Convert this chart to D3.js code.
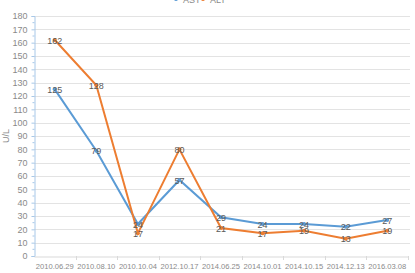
<!DOCTYPE html>
<html>
<head>
<meta charset="utf-8">
<script src="https://cdn.jsdelivr.net/npm/d3@7"></script>
<style>
  body { margin: 0; background: #fff; }
  svg { display: block; font-family: "Liberation Sans", Arial, sans-serif; }
</style>
</head>
<body>
<div id="chart"></div>
<script>
var dates = ["2010.06.29", "2010.08.10", "2010.10.04", "2012.10.17", "2014.06.25",
             "2014.10.01", "2014.10.15", "2014.12.13", "2016.03.08"];
var ast = [125, 79, 24, 57, 29, 24, 24, 22, 27];
var alt = [162, 128, 17, 80, 21, 17, 19, 13, 19];
var yTicks = d3.range(0, 181, 10);

var width = 415, height = 273;
var plotLeft = 34, plotRight = 408, plotTop = 16, plotBottom = 256;

var svg = d3.select("#chart").append("svg")
  .attr("width", width)
  .attr("height", height);

var xScale = d3.scaleBand()
  .domain(dates)
  .range([plotLeft, plotRight]);

var yScale = d3.scaleLinear()
  .domain([0, 180])
  .range([plotBottom, plotTop]);

// gridlines
svg.append("g").selectAll("line")
  .data(yTicks.filter(function(d){ return d > 0; }))
  .enter().append("line")
    .attr("x1", plotLeft).attr("x2", plotRight + 2)
    .attr("y1", function(d){ return Math.round(yScale(d)) + 0.5; })
    .attr("y2", function(d){ return Math.round(yScale(d)) + 0.5; })
    .attr("stroke", "#e3e3e3");

// y axis
var yAxis = svg.append("g")
  .attr("transform", "translate(" + (plotLeft + 0.5) + ",0)")
  .call(d3.axisLeft(yScale).tickValues(yTicks).tickSize(3).tickPadding(4));
yAxis.select(".domain").attr("stroke", "#a8c8e8");
yAxis.selectAll(".tick line").attr("stroke", "#a8c8e8");
yAxis.selectAll("text").attr("fill", "#8a8a8a").style("font-size", "9px");

// minor ticks
svg.append("g").selectAll("line")
  .data(d3.range(5, 180, 10))
  .enter().append("line")
    .attr("x1", plotLeft - 1.5).attr("x2", plotLeft + 0.5)
    .attr("y1", function(d){ return yScale(d); })
    .attr("y2", function(d){ return yScale(d); })
    .attr("stroke", "#a8c8e8");

// x axis
var xAxis = svg.append("g")
  .attr("transform", "translate(0," + (plotBottom + 0.5) + ")")
  .call(d3.axisBottom(xScale).tickSize(0).tickPadding(7));
xAxis.select(".domain").attr("stroke", "#d9d9d9");
xAxis.selectAll("text").attr("fill", "#8a8a8a").style("font-size", "7.6px");
svg.append("g").selectAll("line")
  .data(dates)
  .enter().append("line")
    .attr("x1", function(d){ return Math.round(xScale(d) + xScale.bandwidth()) + 0.5; })
    .attr("x2", function(d){ return Math.round(xScale(d) + xScale.bandwidth()) + 0.5; })
    .attr("y1", plotBottom).attr("y2", plotBottom + 4)
    .attr("stroke", "#d9d9d9");

// y label
svg.append("text")
  .attr("transform", "translate(9," + ((plotTop + plotBottom) / 2) + ") rotate(-90)")
  .attr("text-anchor", "middle")
  .attr("fill", "#8a8a8a")
  .style("font-size", "9px")
  .text("U/L");

var series = [
  { name: "AST", values: ast, color: "#5b9bd5" },
  { name: "ALT", values: alt, color: "#ed7d31" }
];

var line = d3.line()
  .x(function(d, i){ return xScale(dates[i]) + xScale.bandwidth() / 2; })
  .y(function(d){ return yScale(d); });

series.forEach(function(s){
  var g = svg.append("g");
  g.append("path")
    .attr("d", line(s.values))
    .attr("fill", "none")
    .attr("stroke", s.color)
    .attr("stroke-width", 2);
  g.selectAll("circle")
    .data(s.values)
    .enter().append("circle")
      .attr("cx", function(d, i){ return xScale(dates[i]) + xScale.bandwidth() / 2; })
      .attr("cy", function(d){ return yScale(d); })
      .attr("r", 2)
      .attr("fill", s.color);
});

series.forEach(function(s){
  svg.append("g").selectAll("text")
    .data(s.values)
    .enter().append("text")
      .attr("x", function(d, i){ return xScale(dates[i]) + xScale.bandwidth() / 2; })
      .attr("y", function(d){ return yScale(d) + 3.5; })
      .attr("text-anchor", "middle")
      .attr("fill", "#595959")
      .style("font-size", "9px")
      .text(function(d){ return d; });
});

// legend (cut off at top)
var legend = svg.append("g");
series.forEach(function(s, i){
  var lx = 171 + i * 27;
  legend.append("line")
    .attr("x1", lx).attr("x2", lx + 10)
    .attr("y1", -1).attr("y2", -1)
    .attr("stroke", s.color).attr("stroke-width", 2);
  legend.append("circle")
    .attr("cx", lx + 5).attr("cy", -1).attr("r", 2).attr("fill", s.color);
  legend.append("text")
    .attr("x", lx + 12).attr("y", 3)
    .attr("fill", "#8a8a8a")
    .style("font-size", "9px")
    .text(s.name);
});
</script>
</body>
</html>
